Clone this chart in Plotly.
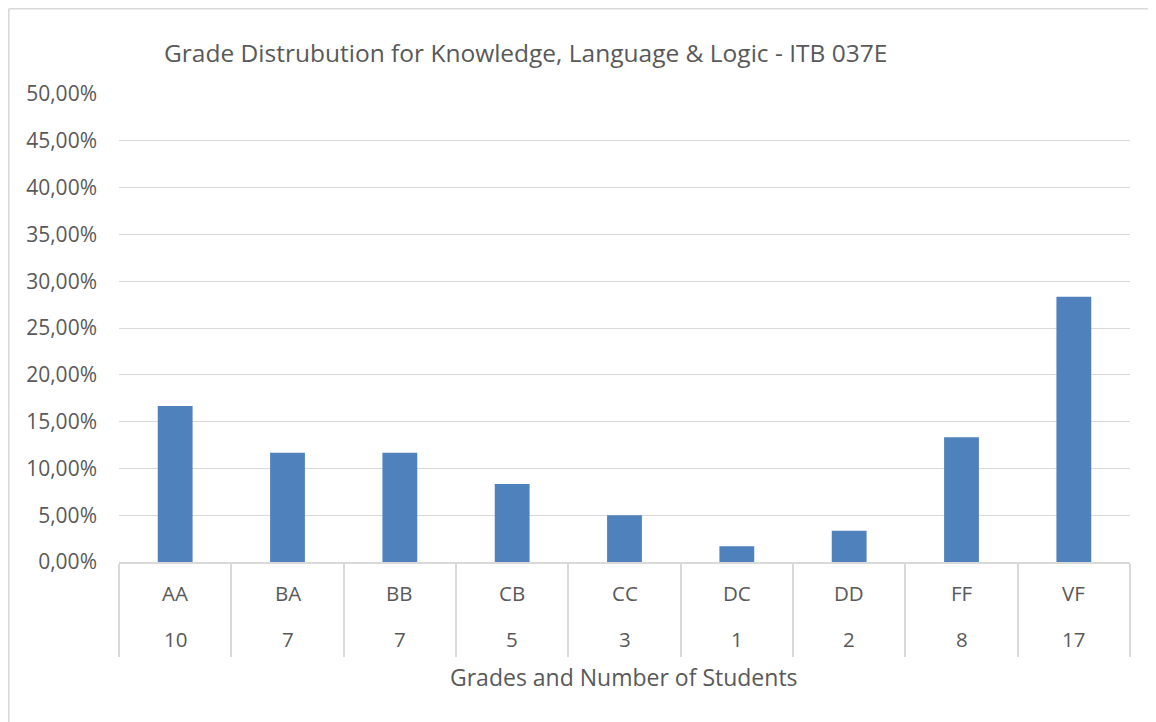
import plotly.graph_objects as go

grades = ["AA", "BA", "BB", "CB", "CC", "DC", "DD", "FF", "VF"]
students = [10, 7, 7, 5, 3, 1, 2, 8, 17]
shares = [0.1667, 0.1167, 0.1167, 0.0833, 0.05, 0.0167, 0.0333, 0.1333, 0.2833]

title_text = "Grade Distrubution for Knowledge, Language & Logic - ITB 037E"
x_title = "Grades and Number of Students"

FONT = "Open Sans, Lato, sans-serif"
TXT = "#595959"
GRID = "#d9d9d9"

fig = go.Figure()
fig.add_trace(go.Bar(x=grades, y=shares, marker=dict(color="#4f81bd", line=dict(width=0)),
                     hoverinfo="x+y"))

# page body has an 8px margin, so the figure starts at (8, 8)
OFF = 8
W, H = 1148, 714
ml, mr, mt, mb = 119 - OFF, 26, 94 - OFF, 160
PW, PH = W - ml - mr, H - mt - mb

annotations = []
for g, n in zip(grades, students):
    annotations.append(dict(x=g, xref="x", y=-31 / PH, yref="paper", text=g,
                            showarrow=False, font=dict(family=FONT, size=20.5, color=TXT),
                            xanchor="center", yanchor="middle"))
    annotations.append(dict(x=g, xref="x", y=-77 / PH, yref="paper", text=str(n),
                            showarrow=False, font=dict(family=FONT, size=20.5, color=TXT),
                            xanchor="center", yanchor="middle"))
annotations.append(dict(x=(624 - 119) / PW, xref="paper", y=-115 / PH, yref="paper", text=x_title,
                        showarrow=False, font=dict(family=FONT, size=23, color=TXT),
                        xanchor="center", yanchor="middle"))
annotations.append(dict(x=(165 - 119) / PW, xref="paper", y=1 + (94 - 52) / PH, yref="paper",
                        text=title_text, showarrow=False,
                        font=dict(family=FONT, size=24.5, color=TXT),
                        xanchor="left", yanchor="middle", xshift=-3))

FX = (OFF + 0.8 - 119) / PW
FY = 1 + (94 - OFF - 0.8) / PH
fig.update_layout(
    width=W, height=H,
    margin=dict(l=ml, r=mr, t=mt, b=mb),
    paper_bgcolor="white", plot_bgcolor="white",
    separators=", ",
    bargap=0.69,
    showlegend=False,
    font=dict(family=FONT, color=TXT),
    annotations=annotations,
    shapes=[
        dict(type="line", xref="paper", yref="paper", x0=FX, x1=1.1,
             y0=FY, y1=FY, line=dict(color=GRID, width=1.6)),
        dict(type="line", xref="paper", yref="paper", x0=FX, x1=FX,
             y0=FY, y1=-0.5, line=dict(color=GRID, width=1.6)),
    ],
    xaxis=dict(type="category", showticklabels=False, ticks="outside", tickson="boundaries",
               ticklen=93, tickwidth=1.5, tickcolor=GRID, showline=True, linecolor=GRID,
               linewidth=1.5, showgrid=False, zeroline=False, range=[-0.5, 8.5]),
    yaxis=dict(range=[0, 0.5], dtick=0.05, tickformat=".2%", showgrid=True, gridcolor=GRID,
               gridwidth=1, zeroline=False, showline=False, ticks="", ticklen=0,
               ticklabelstandoff=21,
               tickfont=dict(family=FONT, size=21, color=TXT)),
)

fig.write_html("out.html")
